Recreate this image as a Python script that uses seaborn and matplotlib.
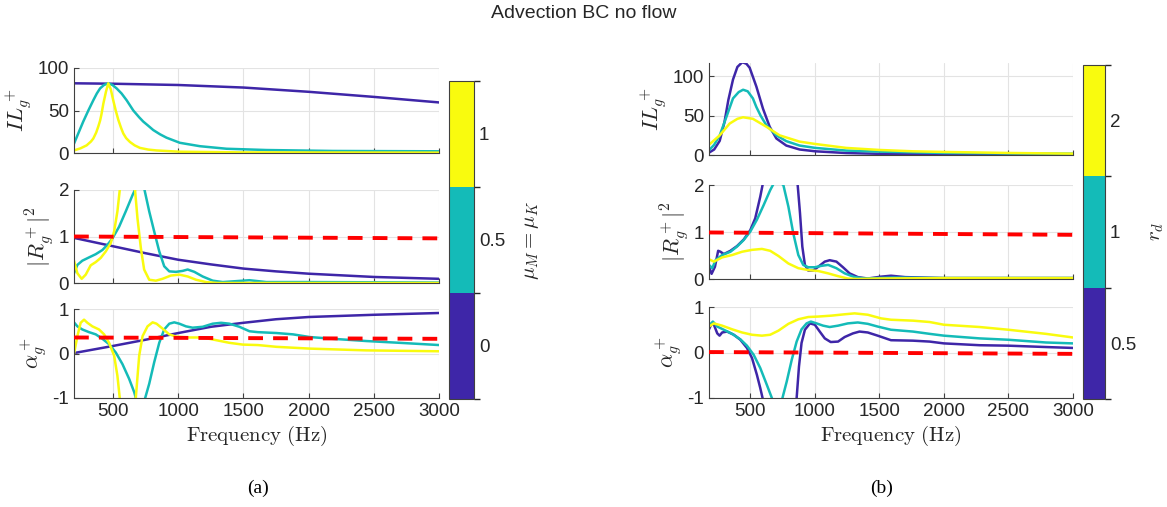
import numpy as np
import pandas as pd
import matplotlib
matplotlib.use("Agg")
import matplotlib.pyplot as plt
import matplotlib as mpl
import seaborn as sns
from matplotlib.colors import ListedColormap, BoundaryNorm

# ---------------- colours (parula, 3 levels) ----------------
C_BLUE, C_TEAL, C_YEL = "#3E26A8", "#14BBB8", "#F9FB0E"

# ---------------- panel (a): mu_M = mu_K ----------------
a_params = ["0", "0.5", "1"]
a_cbar_ticks = [0, 0.5, 1]

a_il_f_mu0 = [200, 500, 1000, 1500, 2000, 2500, 3000]
a_il_v_mu0 = [82, 81.5, 80, 77, 72, 66, 59.5]
a_il_f_mu05 = [200, 230, 271, 310, 348, 375, 400, 430, 463, 495, 527, 565, 604, 655, 700, 731, 770, 808, 860, 910, 1012, 1166, 1370, 1677, 2187, 3000]
a_il_v_mu05 = [11, 22, 37, 50, 62, 70, 76, 80, 82, 80, 76, 70, 62, 50, 42, 37, 32, 27, 22, 18, 12, 8, 5, 3.5, 2.4, 2]
a_il_f_mu1 = [200, 250, 297, 330, 348, 370, 386, 400, 410, 425, 445, 463, 482, 501, 520, 540, 560, 578, 600, 629, 665, 706, 770, 833, 1012, 1500, 3000]
a_il_v_mu1 = [3, 5.5, 9, 13.5, 17, 24, 31, 38, 45, 58, 72, 82, 75, 62, 50, 39, 30, 23, 17.5, 13, 9, 6, 4, 3, 1.5, 0.7, 0.4]

a_r_f_mu0 = [200, 500, 750, 1000, 1250, 1500, 1750, 2000, 2500, 3000]
a_r_v_mu0 = [0.97, 0.79, 0.64, 0.5, 0.4, 0.31, 0.25, 0.2, 0.13, 0.09]
a_r_f_mu05 = [200, 226, 264, 315, 367, 418, 456, 495, 546, 597, 649, 674, 700, 738, 777, 815, 854, 892, 931, 982, 1033, 1072, 1123, 1187, 1264, 1341, 1444, 1546, 1675, 2000, 3000]
a_r_v_mu05 = [0.21, 0.39, 0.48, 0.55, 0.62, 0.71, 0.82, 0.96, 1.21, 1.54, 1.89, 2.04, 2.1, 2.04, 1.54, 1.11, 0.68, 0.36, 0.25, 0.24, 0.26, 0.29, 0.24, 0.14, 0.05, 0.02, 0.04, 0.06, 0.02, 0.02, 0.01]
a_r_f_mu1 = [200, 226, 259, 290, 328, 367, 405, 444, 482, 508, 533, 551, 580, 640, 667, 687, 713, 738, 777, 828, 879, 943, 1008, 1072, 1136, 1213, 1300, 3000]
a_r_v_mu1 = [0.48, 0.21, 0.09, 0.18, 0.38, 0.45, 0.54, 0.68, 0.86, 1.11, 1.54, 2.0, 3.2, 3.2, 2.04, 1.39, 0.75, 0.29, 0.07, 0.05, 0.09, 0.16, 0.18, 0.14, 0.07, 0.02, 0.0, 0.0]
a_r_ref_f = [200, 3000]
a_r_ref_v = [1.0, 0.96]

a_al_f_mu0 = [200, 500, 750, 1000, 1250, 1500, 1750, 2000, 2500, 3000]
a_al_v_mu0 = [0.01, 0.17, 0.31, 0.46, 0.6, 0.69, 0.77, 0.82, 0.87, 0.91]
a_al_f_mu05 = [200, 226, 264, 315, 367, 418, 469, 521, 572, 623, 662, 674, 710, 746, 777, 815, 854, 892, 931, 969, 1008, 1059, 1110, 1187, 1264, 1328, 1392, 1469, 1546, 1610, 1753, 1880, 2008, 2187, 2443, 2698, 3000]
a_al_v_mu05 = [0.7, 0.61, 0.54, 0.48, 0.43, 0.33, 0.21, 0.02, -0.24, -0.57, -0.87, -1.0, -1.3, -1.0, -0.68, -0.2, 0.24, 0.54, 0.67, 0.7, 0.67, 0.61, 0.58, 0.6, 0.67, 0.69, 0.67, 0.6, 0.5, 0.48, 0.46, 0.43, 0.37, 0.33, 0.28, 0.24, 0.19]
a_al_f_mu1 = [200, 226, 251, 277, 303, 341, 392, 431, 469, 508, 533, 551, 610, 674, 700, 726, 764, 803, 833, 879, 931, 982, 1085, 1187, 1290, 1392, 1495, 1610, 1753, 2008, 2443, 3000]
a_al_v_mu1 = [-0.01, 0.39, 0.69, 0.76, 0.69, 0.61, 0.54, 0.43, 0.24, -0.05, -0.5, -1.0, -2.5, -1.0, -0.05, 0.39, 0.61, 0.7, 0.67, 0.56, 0.43, 0.38, 0.36, 0.36, 0.3, 0.24, 0.2, 0.19, 0.15, 0.11, 0.07, 0.05]
a_al_ref_f = [200, 3000]
a_al_ref_v = [0.36, 0.33]

# ---------------- panel (b): r_d ----------------
b_params = ["0.5", "1", "2"]

b_il_f_r05 = [180, 220, 263, 300, 330, 366, 400, 438, 470, 495, 547, 598, 650, 702, 779, 882, 1004, 1244, 1502, 2000, 3000]
b_il_v_r05 = [3, 7, 18, 42, 70, 96, 112, 118, 116, 111, 87, 59, 36, 21, 12, 7, 4.7, 2.5, 1.5, 1, 0.8]
b_il_f_r1 = [180, 220, 263, 314, 366, 410, 444, 480, 520, 547, 580, 624, 702, 779, 882, 1004, 1244, 1502, 2000, 2500, 3000]
b_il_v_r1 = [6, 13, 25, 48, 72, 80, 83, 81, 72, 61, 50, 38, 25, 17.6, 12, 9, 5.6, 4.3, 2.6, 2, 1.7]
b_il_f_r2 = [180, 263, 340, 400, 444, 520, 624, 727, 882, 1004, 1244, 1502, 1760, 2000, 2500, 3000]
b_il_v_r2 = [13, 25, 40, 46, 48, 46, 36, 25, 17, 14, 9, 6.4, 4.7, 3.9, 2.6, 1.7]

b_r_f_r05 = [180, 200, 226, 251, 269, 295, 346, 397, 449, 500, 538, 577, 595, 650, 730, 810, 867, 885, 903, 923, 949, 987, 1026, 1077, 1115, 1167, 1218, 1269, 1333, 1410, 1513, 1590, 1700, 2000, 3000]
b_r_v_r05 = [0.26, 0.11, 0.26, 0.6, 0.58, 0.53, 0.6, 0.7, 0.84, 1.04, 1.29, 1.75, 2.0, 3.5, 5.0, 3.5, 2.0, 1.4, 0.69, 0.3, 0.18, 0.18, 0.26, 0.37, 0.4, 0.37, 0.25, 0.12, 0.04, 0.01, 0.05, 0.07, 0.04, 0.02, 0.02]
b_r_f_r1 = [180, 205, 231, 282, 346, 397, 449, 500, 551, 603, 654, 679, 715, 756, 795, 833, 872, 910, 949, 1000, 1051, 1103, 1167, 1231, 1308, 1385, 1600, 2000, 3000]
b_r_v_r1 = [0.3, 0.23, 0.4, 0.51, 0.58, 0.69, 0.83, 1.01, 1.26, 1.57, 1.89, 2.02, 2.08, 2.0, 1.54, 0.97, 0.51, 0.3, 0.25, 0.25, 0.28, 0.3, 0.23, 0.12, 0.04, 0.01, 0.03, 0.02, 0.02]
b_r_f_r2 = [180, 218, 282, 359, 436, 513, 590, 654, 718, 795, 872, 949, 1026, 1103, 1180, 1256, 1333, 1500, 2000, 3000]
b_r_v_r2 = [0.42, 0.37, 0.46, 0.51, 0.58, 0.62, 0.64, 0.6, 0.49, 0.33, 0.23, 0.19, 0.17, 0.12, 0.06, 0.01, 0.0, 0.01, 0.02, 0.02]
b_r_ref_f = [180, 3000]
b_r_ref_v = [0.99, 0.94]

b_al_f_r05 = [180, 200, 218, 244, 262, 282, 320, 372, 423, 474, 513, 551, 577, 595, 700, 859, 877, 897, 923, 962, 1000, 1038, 1077, 1123, 1180, 1231, 1295, 1346, 1410, 1487, 1590, 1760, 1889, 2000, 2277, 2500, 2790, 3000]
b_al_v_r05 = [0.51, 0.63, 0.61, 0.42, 0.37, 0.44, 0.46, 0.39, 0.28, 0.1, -0.12, -0.49, -0.78, -1.0, -3.0, -1.0, -0.31, 0.21, 0.5, 0.64, 0.61, 0.46, 0.31, 0.23, 0.24, 0.34, 0.42, 0.46, 0.44, 0.37, 0.27, 0.26, 0.24, 0.2, 0.16, 0.15, 0.12, 0.1]
b_al_f_r1 = [180, 210, 244, 295, 359, 423, 474, 526, 577, 628, 667, 710, 749, 782, 821, 859, 897, 936, 969, 1013, 1064, 1115, 1180, 1256, 1333, 1410, 1487, 1590, 1760, 1889, 2000, 2277, 2500, 2790, 3000]
b_al_v_r1 = [0.59, 0.68, 0.57, 0.5, 0.41, 0.29, 0.15, -0.05, -0.34, -0.71, -1.0, -1.4, -1.0, -0.64, -0.16, 0.24, 0.51, 0.64, 0.68, 0.64, 0.59, 0.56, 0.59, 0.64, 0.66, 0.63, 0.57, 0.5, 0.46, 0.41, 0.37, 0.31, 0.28, 0.22, 0.2]
b_al_f_r2 = [180, 218, 282, 359, 436, 513, 590, 654, 718, 795, 872, 949, 1026, 1128, 1231, 1308, 1410, 1513, 1590, 1760, 1889, 2000, 2277, 2500, 2790, 3000]
b_al_v_r2 = [0.57, 0.64, 0.59, 0.51, 0.44, 0.39, 0.37, 0.39, 0.48, 0.63, 0.73, 0.78, 0.79, 0.81, 0.84, 0.86, 0.83, 0.75, 0.72, 0.7, 0.67, 0.61, 0.56, 0.5, 0.41, 0.33]
b_al_ref_f = [180, 3000]
b_al_ref_v = [0.01, -0.03]

x_ticks = [500, 1000, 1500, 2000, 2500, 3000]

# ---------------- style ----------------
sns.set_theme(style="white")
plt.rcParams["font.family"] = ["Liberation Sans", "DejaVu Sans"]
plt.rcParams["mathtext.fontset"] = "cm"
TXT = "#262626"

fig = plt.figure(figsize=(11.67, 5.07), dpi=100)
W, H = 1167.0, 507.0


def box(x0, y0, x1, y1):
    return [x0 / W, 1 - y1 / H, (x1 - x0) / W, (y1 - y0) / H]


def draw(ax, fs, vs, labels, palette, ref_f, ref_v, xlim, ylim, yticks, ylabel, show_x):
    df = pd.concat(
        [pd.DataFrame({"f": f, "v": v, "p": lab}) for f, v, lab in zip(fs, vs, labels)],
        ignore_index=True,
    )
    sns.lineplot(data=df, x="f", y="v", hue="p", palette=palette, estimator=None,
                 sort=False, legend=False, ax=ax, lw=1.8, units="p")
    ax.plot(ref_f, ref_v, color="#FF0000", lw=2.8, ls=(0, (3.8, 2.6)), zorder=5)
    ax.set_xlim(*xlim)
    ax.set_ylim(*ylim)
    ax.set_xticks(x_ticks)
    ax.set_yticks(yticks)
    ax.set_yticklabels([f"{t:g}" for t in yticks])
    ax.grid(True, color="#E3E3E3", lw=0.8)
    ax.set_axisbelow(True)
    for s in ["top", "right"]:
        ax.spines[s].set_visible(False)
    for s in ["left", "bottom"]:
        ax.spines[s].set_color("#404040")
        ax.spines[s].set_linewidth(0.8)
    ax.tick_params(direction="in", length=3.5, width=0.8, colors="#404040",
                   labelsize=13.5, labelcolor=TXT, left=True, bottom=True)
    ax.set_ylabel(ylabel, fontsize=16, color=TXT, labelpad=2)
    if show_x:
        ax.set_xticklabels([str(t) for t in x_ticks])
        ax.set_xlabel(r"$\mathrm{Frequency\ (Hz)}$", fontsize=15, color=TXT, labelpad=3)
    else:
        ax.set_xticklabels([])
        ax.set_xlabel("")


pal_a = dict(zip(a_params, [C_BLUE, C_TEAL, C_YEL]))
pal_b = dict(zip(b_params, [C_BLUE, C_TEAL, C_YEL]))

# panel (a)
ax = fig.add_axes(box(74, 68, 439, 153))
draw(ax, [a_il_f_mu0, a_il_f_mu05, a_il_f_mu1], [a_il_v_mu0, a_il_v_mu05, a_il_v_mu1],
     a_params, pal_a, [], [], (200, 3000), (0, 100), [0, 50, 100], r"$IL_g^+$", False)
ax = fig.add_axes(box(74, 190, 439, 283))
draw(ax, [a_r_f_mu0, a_r_f_mu05, a_r_f_mu1], [a_r_v_mu0, a_r_v_mu05, a_r_v_mu1],
     a_params, pal_a, a_r_ref_f, a_r_ref_v, (200, 3000), (0, 2), [0, 1, 2], r"$|R_g^+|^2$", False)
ax = fig.add_axes(box(74, 309, 439, 398))
draw(ax, [a_al_f_mu0, a_al_f_mu05, a_al_f_mu1], [a_al_v_mu0, a_al_v_mu05, a_al_v_mu1],
     a_params, pal_a, a_al_ref_f, a_al_ref_v, (200, 3000), (-1, 1), [-1, 0, 1], r"$\alpha_g^+$", True)

# panel (b)
ax = fig.add_axes(box(709, 63, 1073, 155))
draw(ax, [b_il_f_r05, b_il_f_r1, b_il_f_r2], [b_il_v_r05, b_il_v_r1, b_il_v_r2],
     b_params, pal_b, [], [], (180, 3000), (0, 117), [0, 50, 100], r"$IL_g^+$", False)
ax = fig.add_axes(box(709, 185, 1073, 279))
draw(ax, [b_r_f_r05, b_r_f_r1, b_r_f_r2], [b_r_v_r05, b_r_v_r1, b_r_v_r2],
     b_params, pal_b, b_r_ref_f, b_r_ref_v, (180, 3000), (0, 2), [0, 1, 2], r"$|R_g^+|^2$", False)
ax = fig.add_axes(box(709, 307, 1073, 398))
draw(ax, [b_al_f_r05, b_al_f_r1, b_al_f_r2], [b_al_v_r05, b_al_v_r1, b_al_v_r2],
     b_params, pal_b, b_al_ref_f, b_al_ref_v, (180, 3000), (-1, 1), [-1, 0, 1], r"$\alpha_g^+$", True)

# colorbars
cmap = ListedColormap([C_BLUE, C_TEAL, C_YEL])


def cbar(rect, bounds, ticks, ticklabels, label, pad):
    cax = fig.add_axes(rect)
    norm = BoundaryNorm(bounds, 3)
    sm = mpl.cm.ScalarMappable(norm=norm, cmap=cmap)
    cb = fig.colorbar(sm, cax=cax, ticks=ticks)
    cb.set_ticklabels(ticklabels)
    cb.outline.set_edgecolor("#404040")
    cb.outline.set_linewidth(0.8)
    cax.tick_params(direction="in", length=3, width=0.8, colors="#404040",
                    labelsize=13.5, labelcolor=TXT)
    cb.set_label(label, fontsize=15, color=TXT, rotation=90, labelpad=pad)
    return cb


cbar(box(449, 81, 474, 399), [-0.25, 0.25, 0.75, 1.25], a_cbar_ticks, a_params,
     r"$\mu_M = \mu_K$", 12)
cbar(box(1083, 65, 1105, 399), [0, 1, 2, 3], [0.5, 1.5, 2.5], b_params, r"$r_d$", 8)

fig.text(0.5, 1 - 13 / H, "Advection BC no flow", ha="center", va="center", fontsize=14, color=TXT)
fig.text(258 / W, 1 - 488 / H, "(a)", ha="center", va="center", fontsize=14,
         family="Liberation Serif", color="black")
fig.text(882 / W, 1 - 488 / H, "(b)", ha="center", va="center", fontsize=14,
         family="Liberation Serif", color="black")

fig.savefig("out.png", dpi=100)
